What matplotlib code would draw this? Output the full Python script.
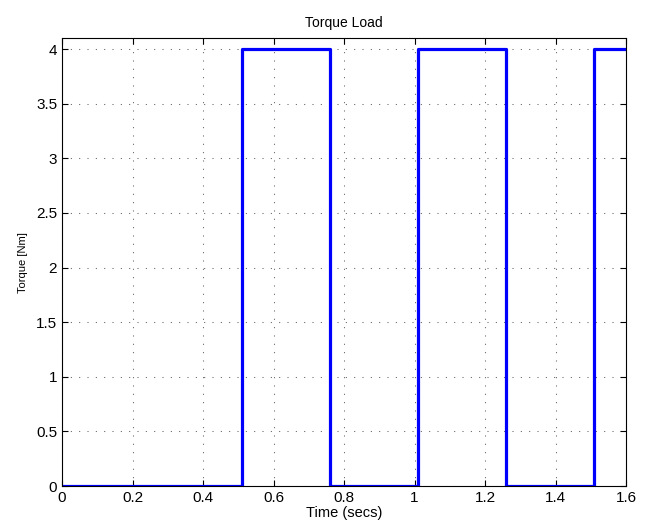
import matplotlib
matplotlib.use('Agg')
import matplotlib.pyplot as plt

plt.rcParams['font.family'] = ['Liberation Sans', 'DejaVu Sans']

# step points of the torque load (time in secs, torque in Nm)
t = [0, 0.51, 0.76, 1.01, 1.26, 1.51, 1.6]
torque = [0, 4, 0, 4, 0, 4, 4]

xticks = [0, 0.2, 0.4, 0.6, 0.8, 1.0, 1.2, 1.4, 1.6]
xticklabels = ['0', '0.2', '0.4', '0.6', '0.8', '1', '1.2', '1.4', '1.6']
yticks = [0, 0.5, 1, 1.5, 2, 2.5, 3, 3.5, 4]
yticklabels = ['0', '0.5', '1', '1.5', '2', '2.5', '3', '3.5', '4']

fig = plt.figure(figsize=(6.54, 5.3), dpi=100)
ax = fig.add_axes([0.0948, 0.083, 0.8624, 0.845])

ax.step(t, torque, where='post', color='#0000ff', linewidth=2.3)

ax.set_xlim(0, 1.6)
ax.set_ylim(0, 4.1)
ax.set_xticks(xticks)
ax.set_xticklabels(xticklabels)
ax.set_yticks(yticks)
ax.set_yticklabels(yticklabels)
ax.tick_params(direction='in', labelsize=11, top=True, right=True, length=4)
ax.grid(True, linestyle=(0, (1, 7)), color='#606060', linewidth=0.75)
for s in ax.spines.values():
    s.set_linewidth(0.8)

ax.set_title('Torque Load', fontsize=10, pad=8)
ax.set_xlabel('Time (secs)', fontsize=10.5, labelpad=1)
ax.set_ylabel('Torque [Nm]', fontsize=8, labelpad=6)

fig.savefig('out.png', dpi=100)
